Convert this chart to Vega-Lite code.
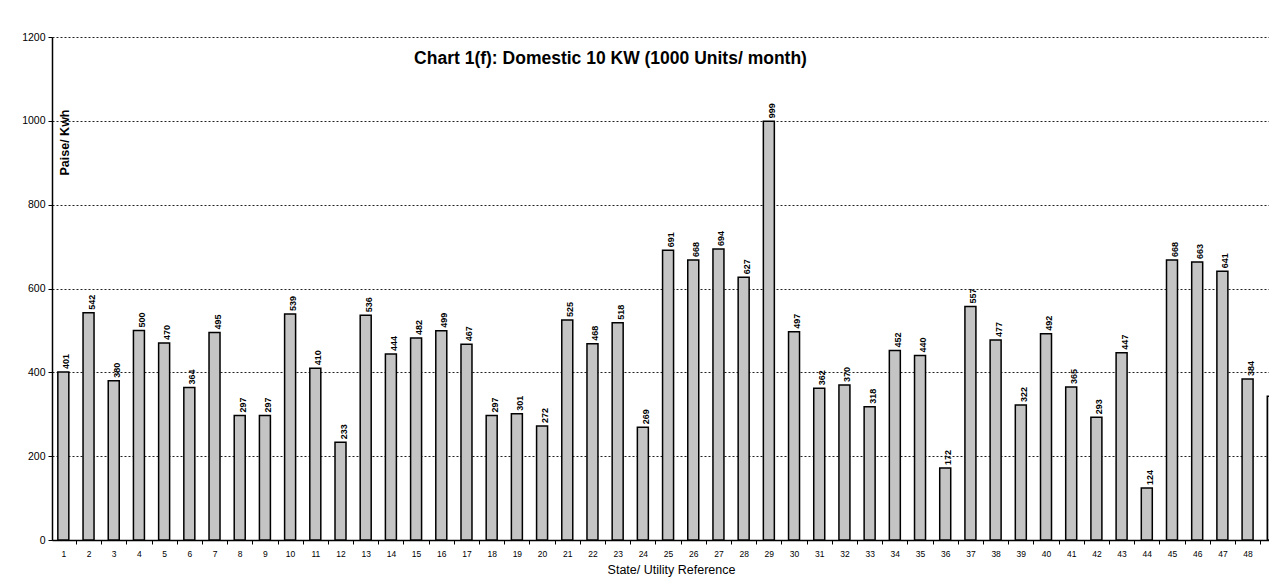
{
  "$schema": "https://vega.github.io/schema/vega-lite/v6.json",
  "autosize": {"type": "none"},
  "padding": {"left": 52, "top": 37, "right": 0, "bottom": 43},
  "width": 1217,
  "height": 503,
  "background": "white",
  "title": {
    "text": "Chart 1(f): Domestic 10 KW (1000 Units/ month)",
    "font": "Liberation Sans",
    "fontSize": 17.5,
    "fontWeight": "bold",
    "color": "black",
    "anchor": "middle",
    "frame": "group",
    "offset": 0,
    "dx": -50,
    "dy": 49,
    "baseline": "alphabetic"
  },
  "data": {
    "values": [
      {"ref": 1, "value": 401}, {"ref": 2, "value": 542}, {"ref": 3, "value": 380},
      {"ref": 4, "value": 500}, {"ref": 5, "value": 470}, {"ref": 6, "value": 364},
      {"ref": 7, "value": 495}, {"ref": 8, "value": 297}, {"ref": 9, "value": 297},
      {"ref": 10, "value": 539}, {"ref": 11, "value": 410}, {"ref": 12, "value": 233},
      {"ref": 13, "value": 536}, {"ref": 14, "value": 444}, {"ref": 15, "value": 482},
      {"ref": 16, "value": 499}, {"ref": 17, "value": 467}, {"ref": 18, "value": 297},
      {"ref": 19, "value": 301}, {"ref": 20, "value": 272}, {"ref": 21, "value": 525},
      {"ref": 22, "value": 468}, {"ref": 23, "value": 518}, {"ref": 24, "value": 269},
      {"ref": 25, "value": 691}, {"ref": 26, "value": 668}, {"ref": 27, "value": 694},
      {"ref": 28, "value": 627}, {"ref": 29, "value": 999}, {"ref": 30, "value": 497},
      {"ref": 31, "value": 362}, {"ref": 32, "value": 370}, {"ref": 33, "value": 318},
      {"ref": 34, "value": 452}, {"ref": 35, "value": 440}, {"ref": 36, "value": 172},
      {"ref": 37, "value": 557}, {"ref": 38, "value": 477}, {"ref": 39, "value": 322},
      {"ref": 40, "value": 492}, {"ref": 41, "value": 365}, {"ref": 42, "value": 293},
      {"ref": 43, "value": 447}, {"ref": 44, "value": 124}, {"ref": 45, "value": 668},
      {"ref": 46, "value": 663}, {"ref": 47, "value": 641}, {"ref": 48, "value": 384},
      {"ref": 49, "value": 343}
    ]
  },
  "encoding": {
    "x": {
      "field": "ref",
      "type": "quantitative",
      "scale": {"domain": [0.55, 48.85], "nice": false, "zero": false, "padding": 0},
      "axis": {
        "title": "State/ Utility  Reference",
        "titleFont": "Liberation Sans",
        "titleFontSize": 12.5,
        "titleFontWeight": "normal",
        "titleColor": "black",
        "titlePadding": 6,
        "titleX": 619,
        "values": [1,2,3,4,5,6,7,8,9,10,11,12,13,14,15,16,17,18,19,20,21,22,23,24,25,26,27,28,29,30,31,32,33,34,35,36,37,38,39,40,41,42,43,44,45,46,47,48],
        "format": "d",
        "labelFont": "Liberation Sans",
        "labelFontSize": 8.5,
        "labelColor": "black",
        "labelPadding": 5,
        "tickOffset": 12.6,
        "labelOffset": -12.6,
        "tickSize": 4,
        "tickColor": "black",
        "domainColor": "black",
        "domainWidth": 1.5,
        "grid": false,
        "labelOverlap": false
      }
    },
    "y": {
      "field": "value",
      "type": "quantitative",
      "scale": {"domain": [0, 1200], "nice": false},
      "axis": {
        "title": "Paise/ Kwh",
        "titleFont": "Liberation Sans",
        "titleFontSize": 12.5,
        "titleFontWeight": "bold",
        "titleColor": "black",
        "titleAngle": 270,
        "titleX": 12,
        "titleY": 105,
        "titleAlign": "center",
        "titleBaseline": "middle",
        "values": [0, 200, 400, 600, 800, 1000, 1200],
        "format": "d",
        "labelFont": "Liberation Sans",
        "labelFontSize": 10.5,
        "labelColor": "black",
        "labelPadding": 3,
        "tickSize": 4,
        "tickColor": "black",
        "domainColor": "black",
        "domainWidth": 1.5,
        "grid": true,
        "gridColor": "#222222",
        "gridDash": [2, 2],
        "gridWidth": 1
      }
    }
  },
  "layer": [
    {
      "mark": {"type": "bar", "size": 11, "fill": "#c4c4c4", "stroke": "black", "strokeWidth": 1.5, "clip": true}
    },
    {
      "mark": {"type": "text", "angle": 270, "align": "left", "baseline": "middle", "dx": 3, "dy": 3, "font": "Liberation Sans", "fontSize": 9, "fontWeight": "bold", "color": "black", "clip": true},
      "encoding": {"text": {"field": "value", "type": "quantitative", "format": "d"}}
    }
  ],
  "config": {"view": {"stroke": null}}
}
